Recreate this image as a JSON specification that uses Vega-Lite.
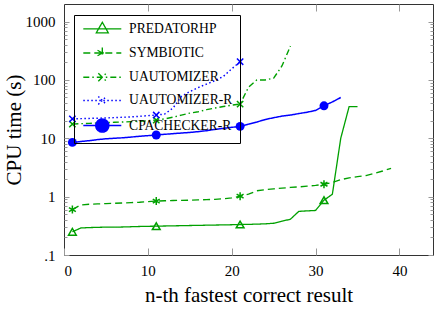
{
  "$schema": "https://vega.github.io/schema/vega-lite/v6.json",
  "width": 369,
  "height": 251,
  "autosize": {"type": "none"},
  "padding": {"left": 64, "top": 4, "right": 2, "bottom": 57},
  "config": {
    "view": {"stroke": "#333", "strokeWidth": 1},
    "font": "Liberation Serif",
    "axis": {"domain": false, "grid": false, "labelFont": "Liberation Serif", "titleFont": "Liberation Serif", "labelFontSize": 15, "titleFontSize": 21, "titleFontWeight": "normal", "labelColor": "#000", "titleColor": "#000", "tickColor": "#999", "tickWidth": 1}
  },
  "data": {"values": [
    {"s":"PredatorHP","n":1,"t":0.25},{"s":"PredatorHP","n":2,"t":0.29},{"s":"PredatorHP","n":3,"t":0.295},{"s":"PredatorHP","n":4,"t":0.298},{"s":"PredatorHP","n":5,"t":0.30},{"s":"PredatorHP","n":6,"t":0.30},{"s":"PredatorHP","n":7,"t":0.302},{"s":"PredatorHP","n":8,"t":0.305},{"s":"PredatorHP","n":9,"t":0.308},{"s":"PredatorHP","n":10,"t":0.31},{"s":"PredatorHP","n":11,"t":0.312},{"s":"PredatorHP","n":12,"t":0.314},{"s":"PredatorHP","n":13,"t":0.316},{"s":"PredatorHP","n":14,"t":0.318},{"s":"PredatorHP","n":15,"t":0.32},{"s":"PredatorHP","n":16,"t":0.322},{"s":"PredatorHP","n":17,"t":0.324},{"s":"PredatorHP","n":18,"t":0.326},{"s":"PredatorHP","n":19,"t":0.328},{"s":"PredatorHP","n":20,"t":0.33},{"s":"PredatorHP","n":21,"t":0.333},{"s":"PredatorHP","n":22,"t":0.335},{"s":"PredatorHP","n":23,"t":0.338},{"s":"PredatorHP","n":24,"t":0.342},{"s":"PredatorHP","n":25,"t":0.35},{"s":"PredatorHP","n":26,"t":0.38},{"s":"PredatorHP","n":27,"t":0.41},{"s":"PredatorHP","n":28,"t":0.56},{"s":"PredatorHP","n":29,"t":0.57},{"s":"PredatorHP","n":30,"t":0.58},{"s":"PredatorHP","n":31,"t":0.87},{"s":"PredatorHP","n":32,"t":1.1},{"s":"PredatorHP","n":33,"t":10},{"s":"PredatorHP","n":34,"t":35},{"s":"PredatorHP","n":35,"t":35},
    {"s":"Symbiotic","n":1,"t":0.6},{"s":"Symbiotic","n":2,"t":0.72},{"s":"Symbiotic","n":3,"t":0.74},{"s":"Symbiotic","n":4,"t":0.75},{"s":"Symbiotic","n":5,"t":0.76},{"s":"Symbiotic","n":6,"t":0.77},{"s":"Symbiotic","n":7,"t":0.78},{"s":"Symbiotic","n":8,"t":0.79},{"s":"Symbiotic","n":9,"t":0.8},{"s":"Symbiotic","n":10,"t":0.82},{"s":"Symbiotic","n":11,"t":0.84},{"s":"Symbiotic","n":12,"t":0.85},{"s":"Symbiotic","n":13,"t":0.86},{"s":"Symbiotic","n":14,"t":0.865},{"s":"Symbiotic","n":15,"t":0.87},{"s":"Symbiotic","n":16,"t":0.88},{"s":"Symbiotic","n":17,"t":0.89},{"s":"Symbiotic","n":18,"t":0.9},{"s":"Symbiotic","n":19,"t":0.92},{"s":"Symbiotic","n":20,"t":0.95},{"s":"Symbiotic","n":21,"t":1.02},{"s":"Symbiotic","n":22,"t":1.1},{"s":"Symbiotic","n":23,"t":1.26},{"s":"Symbiotic","n":24,"t":1.32},{"s":"Symbiotic","n":25,"t":1.36},{"s":"Symbiotic","n":26,"t":1.4},{"s":"Symbiotic","n":27,"t":1.44},{"s":"Symbiotic","n":28,"t":1.47},{"s":"Symbiotic","n":29,"t":1.51},{"s":"Symbiotic","n":30,"t":1.56},{"s":"Symbiotic","n":31,"t":1.63},{"s":"Symbiotic","n":32,"t":1.75},{"s":"Symbiotic","n":33,"t":1.95},{"s":"Symbiotic","n":34,"t":2.1},{"s":"Symbiotic","n":35,"t":2.2},{"s":"Symbiotic","n":36,"t":2.3},{"s":"Symbiotic","n":37,"t":2.5},{"s":"Symbiotic","n":38,"t":2.75},{"s":"Symbiotic","n":39,"t":3.05},
    {"s":"UAutomizer","n":1,"t":17.5},{"s":"UAutomizer","n":2,"t":17.8},{"s":"UAutomizer","n":3,"t":18.0},{"s":"UAutomizer","n":4,"t":18.3},{"s":"UAutomizer","n":5,"t":18.6},{"s":"UAutomizer","n":6,"t":18.8},{"s":"UAutomizer","n":7,"t":19.0},{"s":"UAutomizer","n":8,"t":19.3},{"s":"UAutomizer","n":9,"t":19.6},{"s":"UAutomizer","n":10,"t":20.0},{"s":"UAutomizer","n":11,"t":20.5},{"s":"UAutomizer","n":12,"t":21.5},{"s":"UAutomizer","n":13,"t":23},{"s":"UAutomizer","n":14,"t":25},{"s":"UAutomizer","n":15,"t":27},{"s":"UAutomizer","n":16,"t":28.5},{"s":"UAutomizer","n":17,"t":31},{"s":"UAutomizer","n":18,"t":33},{"s":"UAutomizer","n":19,"t":35},{"s":"UAutomizer","n":20,"t":37},{"s":"UAutomizer","n":21,"t":38.5},{"s":"UAutomizer","n":22,"t":75},{"s":"UAutomizer","n":23,"t":100},{"s":"UAutomizer","n":24,"t":100},{"s":"UAutomizer","n":25,"t":107},{"s":"UAutomizer","n":26,"t":175},{"s":"UAutomizer","n":27,"t":380},
    {"s":"UAutomizer-R","n":1,"t":21.5},{"s":"UAutomizer-R","n":2,"t":21.7},{"s":"UAutomizer-R","n":3,"t":21.9},{"s":"UAutomizer-R","n":4,"t":22.1},{"s":"UAutomizer-R","n":5,"t":22.3},{"s":"UAutomizer-R","n":6,"t":22.6},{"s":"UAutomizer-R","n":7,"t":22.9},{"s":"UAutomizer-R","n":8,"t":23.3},{"s":"UAutomizer-R","n":9,"t":23.8},{"s":"UAutomizer-R","n":10,"t":24.4},{"s":"UAutomizer-R","n":11,"t":25},{"s":"UAutomizer-R","n":12,"t":26},{"s":"UAutomizer-R","n":13,"t":33},{"s":"UAutomizer-R","n":14,"t":52},{"s":"UAutomizer-R","n":15,"t":63},{"s":"UAutomizer-R","n":16,"t":74},{"s":"UAutomizer-R","n":17,"t":85},{"s":"UAutomizer-R","n":18,"t":97},{"s":"UAutomizer-R","n":19,"t":115},{"s":"UAutomizer-R","n":20,"t":155},{"s":"UAutomizer-R","n":21,"t":205},
    {"s":"CPAchecker-R","n":1,"t":8.5},{"s":"CPAchecker-R","n":2,"t":8.8},{"s":"CPAchecker-R","n":3,"t":9.1},{"s":"CPAchecker-R","n":4,"t":9.5},{"s":"CPAchecker-R","n":5,"t":9.8},{"s":"CPAchecker-R","n":6,"t":10},{"s":"CPAchecker-R","n":7,"t":10.2},{"s":"CPAchecker-R","n":8,"t":10.5},{"s":"CPAchecker-R","n":9,"t":10.8},{"s":"CPAchecker-R","n":10,"t":11.1},{"s":"CPAchecker-R","n":11,"t":11.4},{"s":"CPAchecker-R","n":12,"t":11.7},{"s":"CPAchecker-R","n":13,"t":12},{"s":"CPAchecker-R","n":14,"t":12.3},{"s":"CPAchecker-R","n":15,"t":12.6},{"s":"CPAchecker-R","n":16,"t":13},{"s":"CPAchecker-R","n":17,"t":13.5},{"s":"CPAchecker-R","n":18,"t":14.2},{"s":"CPAchecker-R","n":19,"t":14.8},{"s":"CPAchecker-R","n":20,"t":15.4},{"s":"CPAchecker-R","n":21,"t":16},{"s":"CPAchecker-R","n":22,"t":17.5},{"s":"CPAchecker-R","n":23,"t":19},{"s":"CPAchecker-R","n":24,"t":21},{"s":"CPAchecker-R","n":25,"t":22.5},{"s":"CPAchecker-R","n":26,"t":24},{"s":"CPAchecker-R","n":27,"t":25},{"s":"CPAchecker-R","n":28,"t":26.5},{"s":"CPAchecker-R","n":29,"t":28},{"s":"CPAchecker-R","n":30,"t":30},{"s":"CPAchecker-R","n":31,"t":36},{"s":"CPAchecker-R","n":32,"t":42},{"s":"CPAchecker-R","n":33,"t":50}
  ]},
  "layer": [
    {
      "mark": {"type": "line", "clip": true},
      "encoding": {
        "x": {"field": "n", "type": "quantitative", "scale": {"domain": [0, 44], "nice": false, "zero": false},
          "axis": {"orient": "bottom", "values": [0, 10, 20, 30, 40], "tickSize": -7, "labelPadding": 15, "title": "n-th fastest correct result", "titlePadding": 6}},
        "y": {"field": "t", "type": "quantitative", "scale": {"type": "log", "domain": [0.1, 2000], "nice": false},
          "axis": {"orient": "left",
            "values": [0.1,0.2,0.3,0.4,0.5,0.6,0.7,0.8,0.9,1,2,3,4,5,6,7,8,9,10,20,30,40,50,60,70,80,90,100,200,300,400,500,600,700,800,900,1000],
            "labelExpr": "datum.value == 0.1 ? '.1' : datum.value == 1 ? '1' : datum.value == 10 ? '10' : datum.value == 100 ? '100' : datum.value == 1000 ? '1000' : ''",
            "tickSize": {"condition": {"test": "datum.value == 0.1 || datum.value == 1 || datum.value == 10 || datum.value == 100 || datum.value == 1000", "value": -5}, "value": -3},
            "labelPadding": 14, "title": "CPU time (s)", "titlePadding": 1}},
        "color": {"field": "s", "type": "nominal",
          "scale": {"domain": ["PredatorHP", "Symbiotic", "UAutomizer", "UAutomizer-R", "CPAchecker-R"], "range": ["#00a000", "#00a000", "#00a000", "#0000ff", "#0000ff"]},
          "legend": {"title": null, "orient": "none", "legendX": 10, "legendY": 11, "strokeColor": "#000", "padding": 7,
            "symbolSize": 100, "symbolOffset": 14.5, "symbolStrokeWidth": 1.5, "labelFont": "Liberation Serif", "labelFontSize": 13.6, "labelColor": "#000",
            "labelExpr": "upper(datum.label)", "labelOffset": 20, "rowPadding": 8.2,
            "encode": {"symbols": {"update": {
              "size": {"value": 100},
              "strokeWidth": {"value": 1.5},
              "shape": {"signal": "datum.value === 'PredatorHP' ? 'M-3.8,0L3.8,0M0,-1.3L1.2,0.8L-1.2,0.8Z' : datum.value === 'Symbiotic' ? 'M-3.8,0L3.8,0M0,-1.1L0,1.1M-0.95,-0.55L0.95,0.55M-0.95,0.55L0.95,-0.55' : datum.value === 'CPAchecker-R' ? 'M-3.8,0L3.8,0M1.3,0A1.3,1.3,0,1,1,-1.3,0A1.3,1.3,0,1,1,1.3,0Z' : 'M-3.8,0L3.8,0M-0.8,-0.8L0.8,0.8M-0.8,0.8L0.8,-0.8'"},
              "fill": {"signal": "datum.value === 'CPAchecker-R' ? '#0000ff' : 'transparent'"},
              "strokeDash": {"signal": "datum.value === 'Symbiotic' ? [7,4] : datum.value === 'UAutomizer' ? [6,3,1.5,3] : datum.value === 'UAutomizer-R' ? [1.5,2.5] : [1,0]"}
            }}}}},
        "strokeDash": {"field": "s", "type": "nominal", "scale": {"domain": ["PredatorHP", "Symbiotic", "UAutomizer", "UAutomizer-R", "CPAchecker-R"], "range": [[1, 0], [7, 4], [6, 3, 1.5, 3], [1.5, 2.5], [1, 0]]}, "legend": null},
        "strokeWidth": {"field": "s", "type": "nominal", "scale": {"domain": ["PredatorHP", "Symbiotic", "UAutomizer", "UAutomizer-R", "CPAchecker-R"], "range": [1.3, 1.5, 1.5, 1.6, 1.8]}, "legend": null}
      }
    },
    {
      "transform": [{"filter": "datum.s == 'PredatorHP' && datum.n % 10 == 1"}],
      "mark": {"type": "point", "shape": "triangle-up", "size": 60, "filled": false, "color": "#00a000", "strokeWidth": 1.5, "opacity": 1},
      "encoding": {
        "x": {"field": "n", "type": "quantitative",
          "axis": {"orient": "top", "values": [10, 20, 30, 40], "tickSize": -7, "labels": false, "title": null}},
        "y": {"field": "t", "type": "quantitative",
          "axis": {"orient": "right",
            "values": [0.1,0.2,0.3,0.4,0.5,0.6,0.7,0.8,0.9,1,2,3,4,5,6,7,8,9,10,20,30,40,50,60,70,80,90,100,200,300,400,500,600,700,800,900,1000],
            "tickSize": {"condition": {"test": "datum.value == 0.1 || datum.value == 1 || datum.value == 10 || datum.value == 100 || datum.value == 1000", "value": -5}, "value": -3},
            "labels": false, "title": null}}
      }
    },
    {
      "transform": [{"filter": "datum.s == 'Symbiotic' && datum.n % 10 == 1"}],
      "mark": {"type": "point", "shape": "M0,-1V1M-0.87,-0.5L0.87,0.5M-0.87,0.5L0.87,-0.5", "size": 64, "filled": false, "color": "#00a000", "strokeWidth": 1.5, "opacity": 1},
      "encoding": {
        "x": {"field": "n", "type": "quantitative", "axis": null},
        "y": {"field": "t", "type": "quantitative", "axis": null}
      }
    },
    {
      "transform": [{"filter": "datum.s == 'UAutomizer' && datum.n % 10 == 1"}],
      "mark": {"type": "point", "shape": "M-1,-1L1,1M-1,1L1,-1", "size": 40, "filled": false, "color": "#00a000", "strokeWidth": 1.5, "opacity": 1},
      "encoding": {
        "x": {"field": "n", "type": "quantitative", "axis": null},
        "y": {"field": "t", "type": "quantitative", "axis": null}
      }
    },
    {
      "transform": [{"filter": "datum.s == 'UAutomizer-R' && datum.n % 10 == 1"}],
      "mark": {"type": "point", "shape": "M-1,-1L1,1M-1,1L1,-1", "size": 40, "filled": false, "color": "#0000ff", "strokeWidth": 1.5, "opacity": 1},
      "encoding": {
        "x": {"field": "n", "type": "quantitative", "axis": null},
        "y": {"field": "t", "type": "quantitative", "axis": null}
      }
    },
    {
      "transform": [{"filter": "datum.s == 'CPAchecker-R' && datum.n % 10 == 1"}],
      "mark": {"type": "point", "shape": "circle", "size": 80, "filled": true, "color": "#0000ff", "opacity": 1},
      "encoding": {
        "x": {"field": "n", "type": "quantitative", "axis": null},
        "y": {"field": "t", "type": "quantitative", "axis": null}
      }
    }
  ],
  "resolve": {"axis": {"x": "independent", "y": "independent"}}
}
